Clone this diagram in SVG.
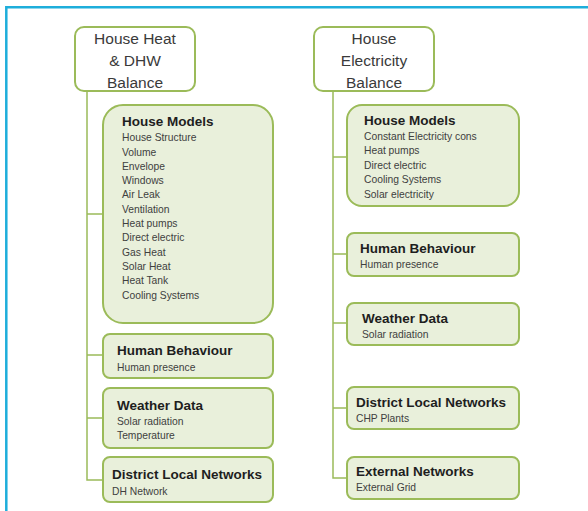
<svg xmlns="http://www.w3.org/2000/svg" width="588" height="511" viewBox="0 0 588 511">
<style>
.frame{fill:none;stroke:#1eaedb;stroke-width:2.5}
.top{fill:#fff;stroke:#9bbb59;stroke-width:2}
.box{fill:#e9f0db;stroke:#9bbb59;stroke-width:2}
.con{fill:none;stroke:#9bbb59;stroke-width:1.5}
.ht{font-family:"Liberation Sans",Arial,sans-serif;font-size:15.5px;fill:#3a3a3a;text-anchor:middle}
.t{font-family:"Liberation Sans",Arial,sans-serif;font-size:13.5px;font-weight:bold;fill:#1e1e1e}
.i{font-family:"Liberation Sans",Arial,sans-serif;font-size:10.3px;fill:#404040}
</style>
<rect width="588" height="511" fill="#fff"/>
<path class="frame" d="M6.3 520 V7.3 H600"/>
<g id="connectors">
<path class="con" d="M87 91 V480 H103 M87 214 H103 M87 355 H103 M87 418 H103"/>
<path class="con" d="M333 91 V478 H347 M333 157 H347 M333 254 H347 M333 323 H347 M333 408 H347"/>
</g>
<g id="heat-balance">
<rect class="top" x="75" y="27" width="120" height="64" rx="9"/>
<text class="ht" x="135" y="44">House Heat</text>
<text class="ht" x="135" y="66">&amp; DHW</text>
<text class="ht" x="135" y="88">Balance</text>
</g>
<g id="elec-balance">
<rect class="top" x="314" y="27" width="120" height="64" rx="9"/>
<text class="ht" x="374" y="44">House</text>
<text class="ht" x="374" y="66">Electricity</text>
<text class="ht" x="374" y="88">Balance</text>
</g>
<g id="l-house-models">
<rect class="box" x="103" y="105" width="170" height="218" rx="20"/>
<text class="t" x="122" y="126">House Models</text>
<text class="i" x="122" y="141">House Structure</text>
<text class="i" x="122" y="155.5">Volume</text>
<text class="i" x="122" y="169.8">Envelope</text>
<text class="i" x="122" y="184.1">Windows</text>
<text class="i" x="122" y="198.4">Air Leak</text>
<text class="i" x="122" y="212.7">Ventilation</text>
<text class="i" x="122" y="227">Heat pumps</text>
<text class="i" x="122" y="241.3">Direct electric</text>
<text class="i" x="122" y="255.6">Gas Heat</text>
<text class="i" x="122" y="269.9">Solar Heat</text>
<text class="i" x="122" y="284.2">Heat Tank</text>
<text class="i" x="122" y="298.5">Cooling Systems</text>
</g>
<g id="l-human">
<rect class="box" x="103" y="334" width="170" height="44" rx="7"/>
<text class="t" x="117" y="355">Human Behaviour</text>
<text class="i" x="117" y="370.5">Human presence</text>
</g>
<g id="l-weather">
<rect class="box" x="103" y="388" width="170" height="60" rx="7"/>
<text class="t" x="117" y="410">Weather Data</text>
<text class="i" x="117" y="424.5">Solar radiation</text>
<text class="i" x="117" y="438.5">Temperature</text>
</g>
<g id="l-district">
<rect class="box" x="103" y="457" width="170" height="45" rx="7"/>
<text class="t" x="112" y="479">District Local Networks</text>
<text class="i" x="112" y="494.5">DH Network</text>
</g>
<g id="r-house-models">
<rect class="box" x="347" y="105" width="172" height="101" rx="15"/>
<text class="t" x="364" y="125">House Models</text>
<text class="i" x="364" y="139.5">Constant Electricity cons</text>
<text class="i" x="364" y="154">Heat pumps</text>
<text class="i" x="364" y="168.5">Direct electric</text>
<text class="i" x="364" y="183">Cooling Systems</text>
<text class="i" x="364" y="197.5">Solar electricity</text>
</g>
<g id="r-human">
<rect class="box" x="347" y="233" width="172" height="43" rx="7"/>
<text class="t" x="360" y="253">Human Behaviour</text>
<text class="i" x="360" y="267.5">Human presence</text>
</g>
<g id="r-weather">
<rect class="box" x="347" y="303" width="172" height="42" rx="7"/>
<text class="t" x="362" y="323">Weather Data</text>
<text class="i" x="362" y="337.5">Solar radiation</text>
</g>
<g id="r-district">
<rect class="box" x="347" y="387" width="172" height="42" rx="7"/>
<text class="t" x="356" y="407">District Local Networks</text>
<text class="i" x="356" y="421.5">CHP Plants</text>
</g>
<g id="r-external">
<rect class="box" x="347" y="457" width="172" height="42" rx="7"/>
<text class="t" x="356" y="476">External Networks</text>
<text class="i" x="356" y="491">External Grid</text>
</g>
</svg>
